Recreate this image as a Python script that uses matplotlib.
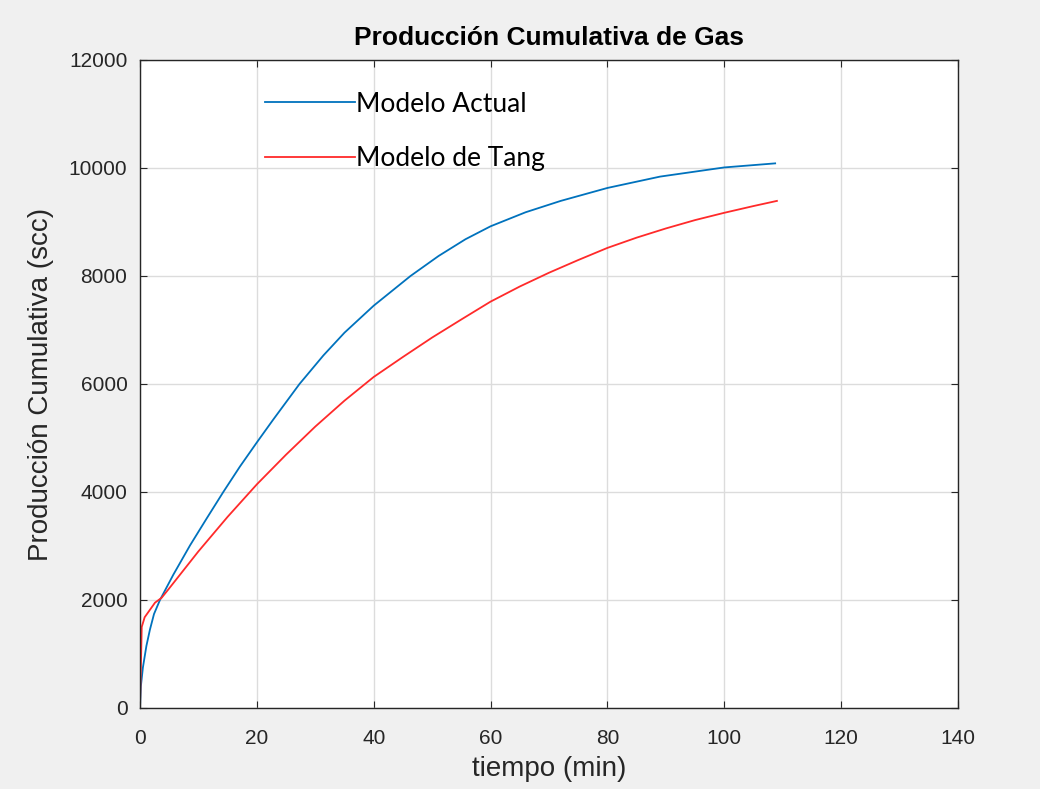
import matplotlib
matplotlib.use("Agg")
import matplotlib.pyplot as plt

# Modelo Actual (blue)
t_actual = [0, 0.15, 0.5, 1.1, 1.7, 2.4, 3.42, 5.7, 8.56, 11.41, 14.26, 17.1,
            20.08, 22.8, 27.3, 31.4, 35, 40, 46.3, 51.1, 55.7, 60, 66, 72, 80,
            89, 100, 108.7]
q_actual = [0, 400, 750, 1150, 1450, 1740, 2000, 2467, 3010, 3509, 4000, 4470,
            4930, 5340, 6000, 6530, 6950, 7450, 8000, 8370, 8680, 8920, 9180,
            9390, 9630, 9840, 10010, 10085]

# Modelo de Tang (red)
t_tang = [0, 0.3, 0.8, 2.57, 3.7, 5, 10, 15, 20, 25, 30, 35, 40, 45, 50, 55,
          60, 65, 70, 75, 80, 85, 90, 95, 100, 105, 109]
q_tang = [0, 1500, 1680, 1950, 2040, 2215, 2900, 3540, 4141, 4691, 5211, 5691,
          6130, 6500, 6860, 7195, 7525, 7805, 8060, 8295, 8520, 8710, 8880,
          9035, 9170, 9295, 9390]

xticks = [0, 20, 40, 60, 80, 100, 120, 140]
yticks = [0, 2000, 4000, 6000, 8000, 10000, 12000]

plt.rcParams["font.family"] = ["Liberation Sans", "DejaVu Sans"]
txt = "#262626"

fig = plt.figure(figsize=(10.4, 7.89), dpi=100, facecolor="#f0f0f0")
ax = fig.add_axes([0.1346, 0.1027, 0.9212 - 0.1346, 0.924 - 0.1027])
ax.set_facecolor("white")

ax.plot(t_actual, q_actual, color="#0072BD", lw=1.3, label="Modelo Actual")
ax.plot(t_tang, q_tang, color="#ff2a2a", lw=1.3, label="Modelo de Tang")

ax.set_xlim(0, 140)
ax.set_ylim(0, 12000)
ax.set_xticks(xticks)
ax.set_yticks(yticks)
ax.grid(True, color="#dcdcdc", lw=1.0)
ax.set_axisbelow(True)
ax.tick_params(direction="in", top=True, right=True, labelsize=15,
               colors=txt, length=5)
ax.tick_params(axis="y", pad=9)
ax.tick_params(axis="x", pad=15)
for s in ax.spines.values():
    s.set_color(txt)
    s.set_linewidth(1.0)

ax.set_title("Producción Cumulativa de Gas", fontsize=19, fontweight="bold",
             color="black", pad=11)
ax.set_xlabel("tiempo (min)", fontsize=20, color=txt, labelpad=6)
ax.set_ylabel("Producción Cumulativa (scc)", fontsize=20, color=txt, labelpad=11)

leg = ax.legend(loc="upper left", bbox_to_anchor=(0.153, 0.951), frameon=False,
                prop={"family": ["Lato", "DejaVu Sans"], "size": 19},
                handlelength=3.4, handletextpad=0.05, labelspacing=1.1,
                borderpad=0, borderaxespad=0)
for t in leg.get_texts():
    t.set_color("black")

fig.savefig("out.png", dpi=100, facecolor=fig.get_facecolor())
